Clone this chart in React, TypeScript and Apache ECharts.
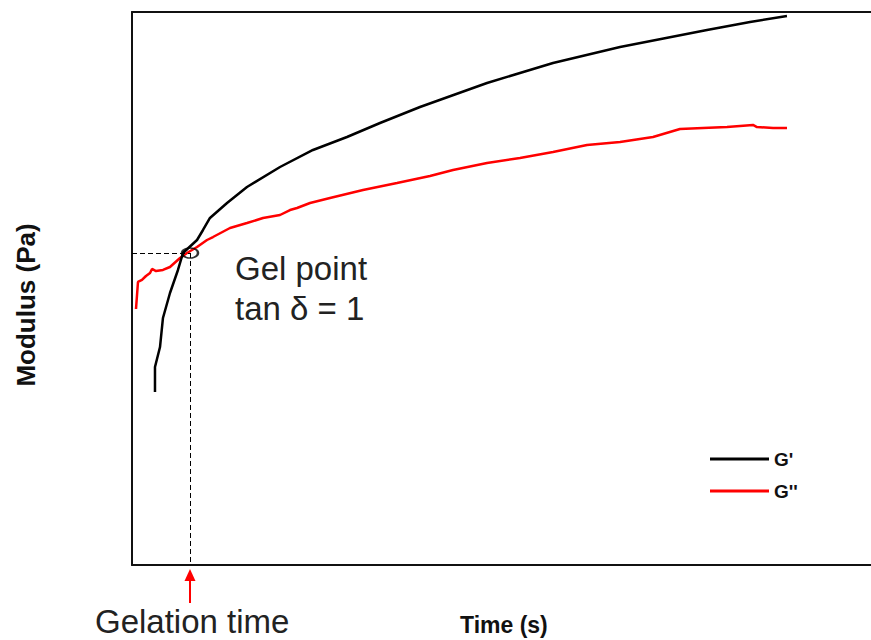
import React, { useEffect, useRef } from "react";
import * as echarts from "echarts";

// Time (arbitrary units, s) vs modulus (arbitrary units, Pa)
const gPrimeTime = [31.1, 31.1, 37.9, 41.9, 51.4, 62.2, 69.0, 88.0, 96.1, 105.5, 128.6, 155.6, 200.3, 244.9, 290.9, 335.6, 389.7, 480.4, 569.7, 660.4, 778.1, 836.3, 886.3];
const gPrimeValues = [312.8, 358.0, 394.2, 446.7, 491.9, 533.5, 564.2, 587.7, 605.8, 627.5, 654.6, 683.5, 719.7, 750.5, 774.0, 799.3, 828.2, 871.6, 907.8, 936.7, 967.5, 981.9, 992.8];

const gDoublePrimeTime = [5.4, 8.1, 13.5, 18.9, 24.4, 27.1, 32.5, 41.9, 51.4, 65.0, 74.4, 88.0, 101.5, 109.6, 132.6, 155.6, 177.3, 200.3, 213.8, 223.3, 240.9, 267.9, 312.6, 358.6, 403.2, 434.4, 480.4, 525.0, 569.7, 615.7, 660.4, 705.0, 741.5, 772.7, 805.1, 840.3, 845.7, 867.4, 886.3];
const gDoublePrimeValues = [462.9, 511.8, 515.4, 522.6, 528.0, 535.3, 531.6, 533.5, 538.9, 555.2, 564.2, 575.0, 587.7, 593.1, 609.4, 618.4, 627.5, 632.9, 641.9, 645.6, 654.6, 663.7, 678.1, 690.8, 703.4, 714.3, 726.9, 736.0, 746.8, 759.5, 764.9, 774.0, 788.4, 790.2, 792.0, 795.7, 792.0, 790.2, 790.2];

const gelPoint = [78.5, 564.2];
const seriesNames = ["G'", "G''"];
const xRange = [0, 1000];
const yRange = [0, 1000];

const FONT = "'Liberation Sans', Arial, sans-serif";

export default function App() {
  const ref = useRef<HTMLDivElement>(null);

  useEffect(() => {
    if (!ref.current) return;
    const chart = echarts.init(ref.current, undefined, { renderer: "svg" });
    const gp = gPrimeTime.map((t, i) => [t, gPrimeValues[i]]);
    const gpp = gDoublePrimeTime.map((t, i) => [t, gDoublePrimeValues[i]]);

    chart.setOption({
      animation: false,
      backgroundColor: "#ffffff",
      textStyle: { fontFamily: FONT },
      grid: { left: 132, top: 12, right: 0, bottom: 75 },
      xAxis: [
        {
          type: "value",
          min: xRange[0],
          max: xRange[1],
          position: "bottom",
          axisLine: { show: true, lineStyle: { color: "#111", width: 2 } },
          axisTick: { show: false },
          axisLabel: { show: false },
          splitLine: { show: false },
        },
        {
          type: "value",
          min: xRange[0],
          max: xRange[1],
          position: "top",
          axisLine: { show: true, lineStyle: { color: "#111", width: 2 } },
          axisTick: { show: false },
          axisLabel: { show: false },
          splitLine: { show: false },
        },
      ],
      yAxis: {
        type: "value",
        min: yRange[0],
        max: yRange[1],
        axisLine: { show: true, lineStyle: { color: "#111", width: 2 } },
        axisTick: { show: false },
        axisLabel: { show: false },
        splitLine: { show: false },
      },
      legend: {
        orient: "vertical",
        left: 710,
        top: 449,
        padding: 0,
        itemWidth: 59,
        itemHeight: 3,
        itemGap: 12,
        icon: "rect",
        textStyle: { fontFamily: FONT, fontSize: 19, fontWeight: "bold", color: "#111", lineHeight: 20 },
        data: seriesNames,
      },
      series: [
        {
          name: seriesNames[1],
          type: "line",
          data: gpp,
          showSymbol: false,
          lineStyle: { color: "#ff0000", width: 2.5 },
          itemStyle: { color: "#ff0000" },
          z: 2,
        },
        {
          name: seriesNames[0],
          type: "line",
          data: gp,
          showSymbol: false,
          lineStyle: { color: "#000000", width: 2.5 },
          itemStyle: { color: "#000000" },
          z: 3,
        },
        {
          name: "gel",
          type: "scatter",
          data: [gelPoint],
          symbol: "circle",
          symbolSize: [16, 10],
          itemStyle: { color: "rgba(0,0,0,0)", borderColor: "#000", borderWidth: 2 },
          z: 4,
          silent: true,
          markLine: {
            silent: true,
            symbol: ["none", "none"],
            label: { show: false },
            lineStyle: { color: "#000", width: 1, type: [5, 3] },
            data: [
              [{ coord: [xRange[0], gelPoint[1]] }, { coord: [gelPoint[0], gelPoint[1]] }],
              [{ coord: [gelPoint[0], gelPoint[1]] }, { coord: [gelPoint[0], yRange[0]] }],
            ],
          },
        },
      ],
    });

    const [gx, gy] = chart.convertToPixel({ gridIndex: 0 }, gelPoint) as number[];
    const [, y0] = chart.convertToPixel({ gridIndex: 0 }, [0, 0]) as number[];

    chart.setOption({
      graphic: [
        {
          type: "polygon",
          shape: { points: [[gx, y0 + 4], [gx - 5.5, y0 + 16], [gx + 5.5, y0 + 16]] },
          style: { fill: "#ff0000" },
        },
        {
          type: "line",
          shape: { x1: gx, y1: y0 + 14, x2: gx, y2: y0 + 38 },
          style: { stroke: "#ff0000", lineWidth: 2 },
        },
        {
          type: "text",
          style: { text: "Gel point", x: gx + 45, y: gy - 1, font: `33px ${FONT}`, fill: "#222", align: "left", verticalAlign: "top" },
        },
        {
          type: "text",
          style: { text: "tan δ = 1", x: gx + 45, y: gy + 39, font: `33px ${FONT}`, fill: "#222", align: "left", verticalAlign: "top" },
        },
        {
          type: "text",
          style: { text: "Gelation time", x: 95, y: 605, font: `33px ${FONT}`, fill: "#222", align: "left", verticalAlign: "top" },
        },
        {
          type: "text",
          style: { text: "Time (s)", x: 460, y: 613, font: `bold 23px ${FONT}`, fill: "#111", align: "left", verticalAlign: "top" },
        },
        {
          type: "text",
          x: 26,
          y: 305,
          rotation: Math.PI / 2,
          style: { text: "Modulus (Pa)", x: 0, y: 0, font: `bold 26px ${FONT}`, fill: "#111", align: "center", verticalAlign: "middle" },
        },
      ],
    });

    return () => chart.dispose();
  }, []);

  return (
    <div
      ref={ref}
      style={{ position: "fixed", left: 0, top: 0, width: 871, height: 640, background: "#fff" }}
    />
  );
}
